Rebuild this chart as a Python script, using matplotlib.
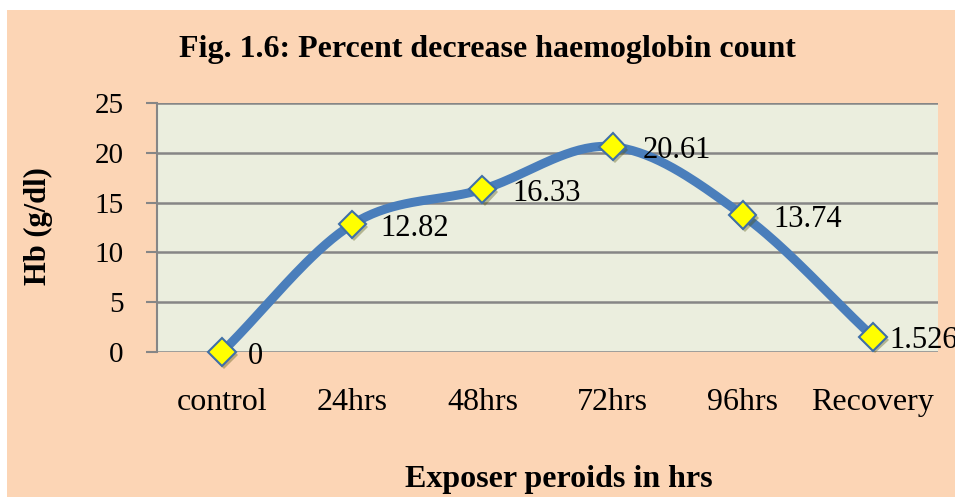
import numpy as np
import matplotlib
matplotlib.use("Agg")
import matplotlib.pyplot as plt
from matplotlib.patches import Rectangle
import matplotlib.patheffects as pe

categories = ["control", "24hrs", "48hrs", "72hrs", "96hrs", "Recovery"]
values = [0, 12.82, 16.33, 20.61, 13.74, 1.526]
labels = ["0", "12.82", "16.33", "20.61", "13.74", "1.526"]
yticks = [0, 5, 10, 15, 20, 25]

W, H = 955, 497
fig = plt.figure(figsize=(W / 100, H / 100), dpi=100)
fig.patch.set_facecolor("white")
fig.patches.append(Rectangle((7 / W, 0), 1 - 7 / W, (H - 10) / H,
                             transform=fig.transFigure, facecolor="#FCD5B5",
                             edgecolor="none", zorder=-10))

left, right, top, bottom = 157, 938, 103, 352
ax = fig.add_axes([left / W, 1 - bottom / H, (right - left) / W, (bottom - top) / H])
ax.set_facecolor("#EBEEDE")

serif = ["Liberation Serif", "DejaVu Serif"]

# smooth curve (Catmull-Rom like Excel smoothing)
x = np.arange(len(values), dtype=float)
y = np.array(values, dtype=float)
px = np.concatenate([[2 * x[0] - x[1]], x, [2 * x[-1] - x[-2]]])
py = np.concatenate([[2 * y[0] - y[1]], y, [2 * y[-1] - y[-2]]])
sx, sy = [], []
for i in range(1, len(px) - 2):
    t = np.linspace(0, 1, 40)
    p0, p1, p2, p3 = (np.array([px[j], py[j]]) for j in range(i - 1, i + 3))
    for tt in t:
        pt = 0.5 * ((2 * p1) + (-p0 + p2) * tt + (2 * p0 - 5 * p1 + 4 * p2 - p3) * tt ** 2
                    + (-p0 + 3 * p1 - 3 * p2 + p3) * tt ** 3)
        sx.append(pt[0]); sy.append(pt[1])
ax.plot(sx, sy, color="#4A7EBB", lw=6.5, solid_capstyle="round", zorder=3, clip_on=False)
ax.plot(x, y, linestyle="none", marker="D", markersize=14, markerfacecolor="#FFFF00",
        markeredgecolor="#3F6FA8", markeredgewidth=1.5, zorder=4, clip_on=False,
        path_effects=[pe.SimplePatchShadow(offset=(1.5, -2), alpha=0.35), pe.Normal()])

offsets = [26, 28, 30, 30, 31, 16]
for xi, yi, lab, off in zip(x, y, labels, offsets):
    ax.annotate(lab, (xi, yi), xytext=(off, -4), textcoords="offset pixels",
                ha="left", va="center", fontsize=22, family=serif, color="black",
                zorder=5, annotation_clip=False)

ax.set_xlim(-0.5, len(categories) - 0.5)
ax.set_ylim(0, 25)
ax.set_yticks(yticks)
ax.set_yticklabels([str(v) for v in yticks], fontsize=21, family=serif)
ax.set_xticks(x)
ax.set_xticklabels(categories, fontsize=23, family=serif)
ax.tick_params(axis="x", length=0, pad=26)
ax.tick_params(axis="y", length=8, width=1.5, color="#868686", pad=16)
ax.grid(axis="y", color="#868686", lw=1.8, zorder=1)
ax.set_axisbelow(True)
for s in ["top", "right", "bottom"]:
    ax.spines[s].set_visible(False)
ax.spines["left"].set_color("#868686")
ax.spines["left"].set_linewidth(1.5)

fig.text(487 / W, 1 - 50 / H, "Fig. 1.6: Percent decrease haemoglobin count",
         ha="center", va="center", fontsize=23, fontweight="bold", family=serif)
fig.text(38 / W, 1 - 226 / H, "Hb (g/dl)", rotation=90, ha="center", va="center",
         fontsize=22, fontweight="bold", family=serif)
fig.text(559 / W, 1 - 480 / H, "Exposer peroids in hrs", ha="center", va="center",
         fontsize=23, fontweight="bold", family=serif)

fig.savefig("out.png", dpi=100, facecolor=fig.get_facecolor())
